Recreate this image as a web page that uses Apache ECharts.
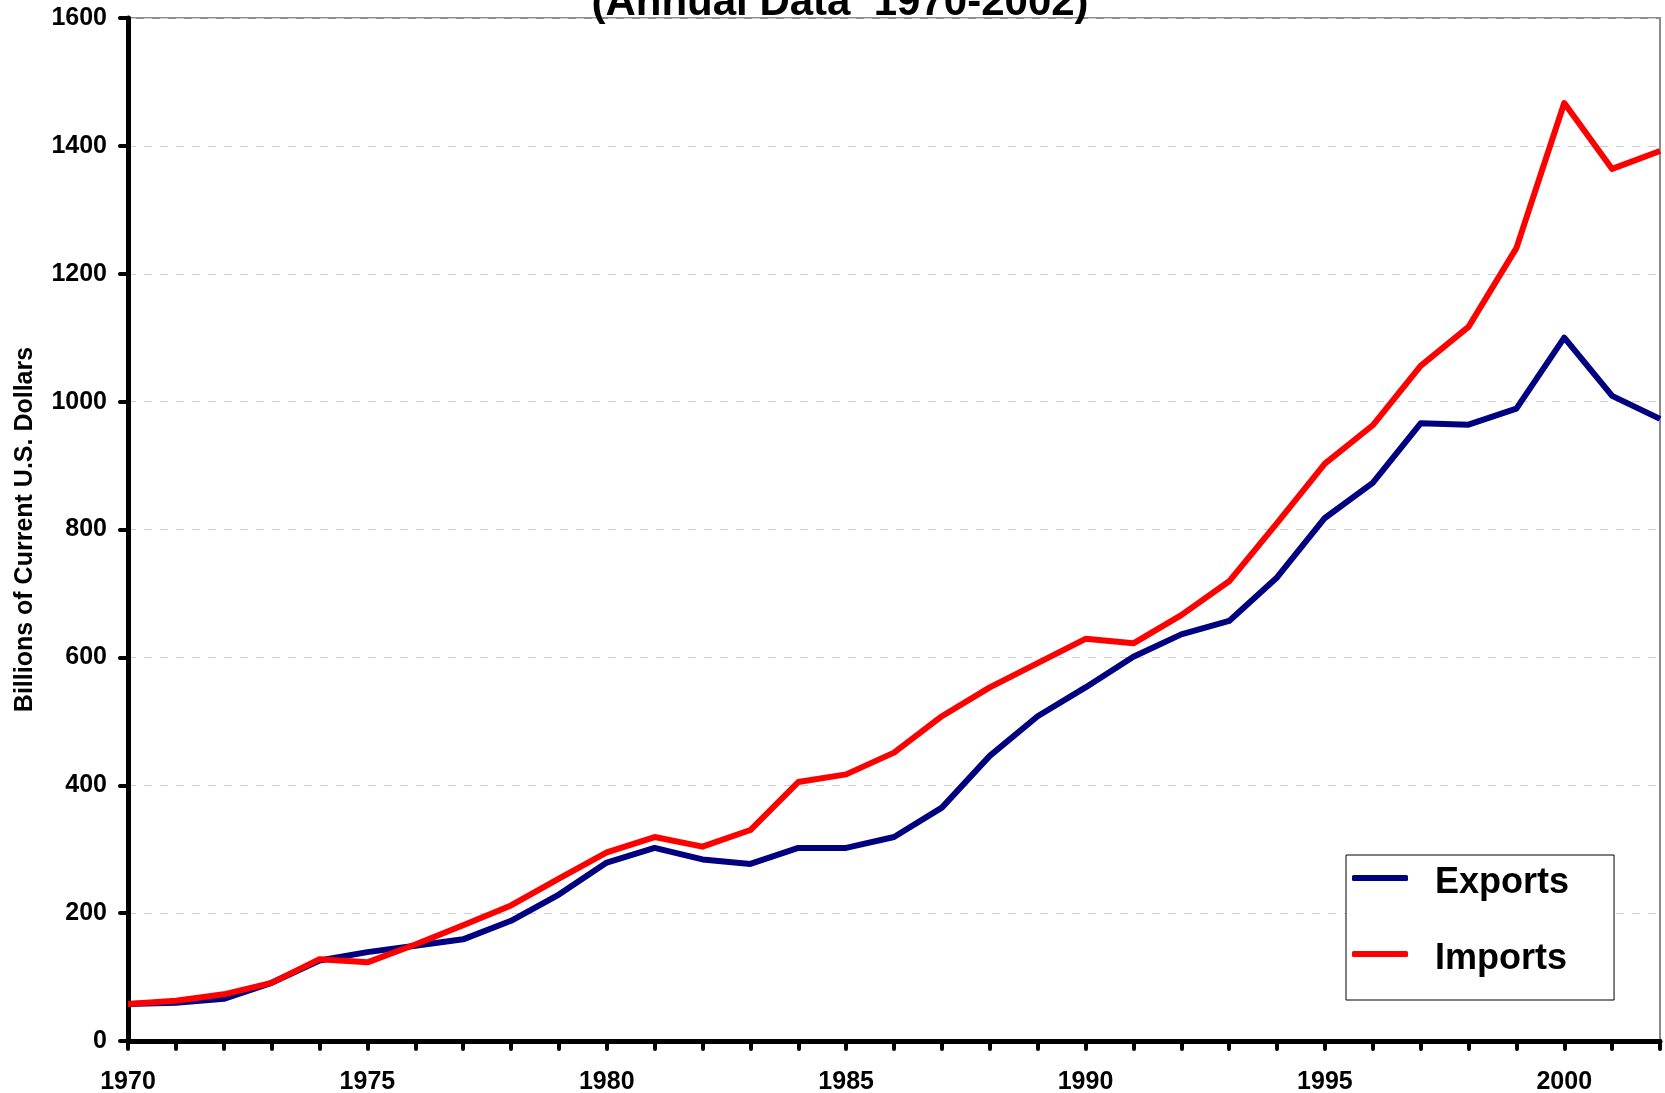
<!DOCTYPE html>
<html>
<head>
<meta charset="utf-8">
<title>Exports and Imports</title>
<script src="https://cdn.jsdelivr.net/npm/echarts@6/dist/echarts.min.js"></script>
<style>
  html, body { margin: 0; padding: 0; background: #fff; }
  #chart { width: 1665px; height: 1093px; }
</style>
</head>
<body>
<div id="chart"></div>
<script>
// values (billions of current U.S. dollars)
const years = [1970, 1971, 1972, 1973, 1974, 1975, 1976, 1977, 1978, 1979,
  1980, 1981, 1982, 1983, 1984, 1985, 1986, 1987, 1988, 1989,
  1990, 1991, 1992, 1993, 1994, 1995, 1996, 1997, 1998, 1999,
  2000, 2001, 2002]
const exportsVals = [58, 60, 66, 91, 126, 139, 149, 159, 188, 229,
  279, 302, 284, 277, 302, 302, 319, 365, 446, 508,
  553, 601, 636, 657, 725, 818, 873, 966, 964, 989,
  1100, 1009, 973]
const importsVals = [58, 63, 73, 91, 128, 123, 151, 181, 212, 254,
  295, 319, 304, 330, 405, 417, 451, 508, 553, 591,
  629, 622, 666, 719, 810, 903, 963, 1056, 1117, 1240,
  1467, 1364, 1392]
const yTicks = [0, 200, 400, 600, 800, 1000, 1200, 1400, 1600]

const font = 'Arial, "Liberation Sans", sans-serif'
const pairs = vals => years.map((y, i) => [y, vals[i]])

const chart = echarts.init(document.getElementById('chart'), null, { renderer: 'canvas' })

chart.setOption({
  animation: false,
  backgroundColor: '#fff',
  // only the second line of the title shows, the rest is cut off above the page
  title: {
    text: '(Annual Data  1970-2002)',
    left: 840,
    textAlign: 'center',
    top: -18,
    padding: 0,
    textStyle: { fontFamily: font, fontSize: 42, fontWeight: 'bold', color: '#000' }
  },
  grid: {
    left: 128,
    top: 18,
    right: 5,
    bottom: 52,
    outerBoundsMode: 'none',
    show: true,
    borderColor: '#8c8c8c',
    borderWidth: 2
  },
  legend: {
    orient: 'vertical',
    left: 1346,
    top: 855,
    padding: [2, 45, 23, 6],
    itemGap: 32,
    itemWidth: 56,
    itemHeight: 6,
    icon: 'roundRect',
    backgroundColor: '#fff',
    borderColor: '#000',
    borderWidth: 1,
    borderRadius: 0,
    z: 20,
    // an empty short line on top pushes the name a bit below the line icon
    formatter: name => '{s| }\n' + name,
    textStyle: {
      fontFamily: font,
      fontSize: 36,
      fontWeight: 'bold',
      color: '#000',
      lineHeight: 32,
      padding: [0, 0, 0, 22],
      rich: {
        s: { fontSize: 4, lineHeight: 10 }
      }
    },
    data: ['Exports', 'Imports']
  },
  xAxis: {
    type: 'value',
    min: 1970,
    max: 2002,
    interval: 1,
    axisLine: { lineStyle: { color: '#000', width: 5 } },
    axisTick: { length: 8, lineStyle: { color: '#000', width: 4, cap: 'round' } },
    axisLabel: {
      margin: 29,
      fontFamily: font,
      fontSize: 25,
      fontWeight: 'bold',
      color: '#000',
      formatter: v => (v % 5 === 0 ? String(v) : '')
    },
    splitLine: { show: false }
  },
  yAxis: {
    type: 'value',
    min: yTicks[0],
    max: yTicks[yTicks.length - 1],
    interval: 200,
    name: 'Billions of Current U.S. Dollars',
    nameLocation: 'middle',
    nameGap: 90,
    nameTextStyle: { fontFamily: font, fontSize: 25, fontWeight: 'bold', color: '#000' },
    axisLine: { show: true, lineStyle: { color: '#000', width: 5 } },
    axisTick: { show: true, length: 8, lineStyle: { color: '#000', width: 4, cap: 'round' } },
    axisLabel: {
      margin: 21,
      fontFamily: font,
      fontSize: 25,
      fontWeight: 'bold',
      color: '#000',
      formatter: v => String(v)
    },
    splitLine: { show: true, lineStyle: { color: '#cfcfcf', width: 1, type: [8, 8] } }
  },
  series: [
    {
      name: 'Exports',
      type: 'line',
      data: pairs(exportsVals),
      symbol: 'none',
      color: '#000080',
      lineStyle: { color: '#000080', width: 6, join: 'round' }
    },
    {
      name: 'Imports',
      type: 'line',
      data: pairs(importsVals),
      symbol: 'none',
      color: '#ff0000',
      lineStyle: { color: '#ff0000', width: 6, join: 'round' }
    }
  ]
})
</script>
</body>
</html>
